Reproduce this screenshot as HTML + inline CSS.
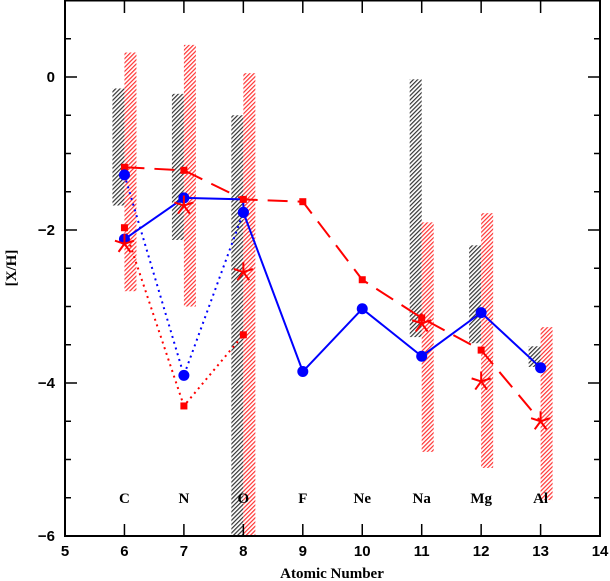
<!DOCTYPE html>
<html><head><meta charset="utf-8"><style>
body{margin:0;background:#fff;}
svg{display:block;font-family:"Liberation Sans",sans-serif;}
.t{font-size:15px;font-weight:bold;}
.el{font-family:"Liberation Serif",serif;font-size:15px;font-weight:bold;}
</style></head><body>
<svg id="c" width="610" height="581" viewBox="0 0 610 581" xmlns="http://www.w3.org/2000/svg">
<defs>
<pattern id="hb" width="3" height="3" patternUnits="userSpaceOnUse" patternTransform="rotate(45)"><rect width="3" height="3" fill="#fff"/><rect width="1.2" height="3" fill="#333"/></pattern>
<pattern id="hr" width="3" height="3" patternUnits="userSpaceOnUse" patternTransform="rotate(45)"><rect width="3" height="3" fill="#fff"/><rect width="1.2" height="3" fill="#f33"/></pattern>
</defs>
<g id="bars"></g><g id="lines"></g><g id="marks"></g><g id="axes"></g>
</svg>
<script>
const elements=["C","N","O","F","Ne","Na","Mg","Al"];
const zs=[6,7,8,9,10,11,12,13];
const blackBarZ=[6,7,8,11,12,13];
const blackBarTop=[-0.15,-0.22,-0.5,-0.03,-2.2,-3.52];
const blackBarBot=[-1.68,-2.13,-6,-3.4,-3.48,-3.79];
const redBarZ=[6,7,8,11,12,13];
const redBarTop=[0.32,0.42,0.05,-1.9,-1.78,-3.27];
const redBarBot=[-2.8,-3.0,-6,-4.9,-5.11,-5.53];
const dashedZ=[6,7,8,9,10,11,12,13];
const dashedY=[-1.18,-1.22,-1.6,-1.63,-2.65,-3.15,-3.57,-4.5];
const dashedSq=[true,true,true,true,true,true,true,false];
const blueZ=[6,7,8,8,9,10,11,12,13];
const blueY=[-2.12,-1.58,-1.6,-1.77,-3.85,-3.03,-3.65,-3.08,-3.8];
const blueHasDot=[true,true,false,true,true,true,true,true,true];
const blueDotZ=[6,7,8];
const blueDotY=[-1.28,-3.9,-1.77];
const redDotZ=[6,7,8];
const redDotY=[-1.97,-4.3,-3.37];
const starZ=[6,7,8,11,12,13];
const starY=[-2.18,-1.68,-2.55,-3.22,-3.98,-4.5];
const xTicks=[5,6,7,8,9,10,11,12,13,14];
const yTicks=[0,-2,-4,-6];

const X=v=>65+(v-5)*59.45, Y=v=>77-v*76.5;
const NS="http://www.w3.org/2000/svg";
function mk(t,p,a){const e=document.createElementNS(NS,t);for(const k in a)e.setAttribute(k,a[k]);p.appendChild(e);return e;}
const G=id=>document.getElementById(id);
const bars=G('bars'),lines=G('lines'),marks=G('marks'),axes=G('axes');
const top0=0.5,bot=536;
const clampY=v=>Math.max(Math.min(Y(v),bot),top0);
blackBarZ.forEach((z,i)=>{const y1=clampY(blackBarTop[i]),y2=clampY(blackBarBot[i]);
 const r=mk('rect',bars,{x:X(z)-12,y:y1,width:12,height:y2-y1,fill:'url(#hb)'});
 
 });
redBarZ.forEach((z,i)=>{const y1=clampY(redBarTop[i]),y2=clampY(redBarBot[i]);
 const r=mk('rect',bars,{x:X(z),y:y1,width:12,height:y2-y1,fill:'url(#hr)'});
 
 });
function pl(zA,yA,col,dash,name){const p=mk('polyline',lines,{points:zA.map((z,i)=>X(z)+','+Y(yA[i])).join(' '),fill:'none',stroke:col,'stroke-width':2,'stroke-dasharray':dash});
 
 }
pl(dashedZ,dashedY,'#f00','20 10','red-dashed-line');
pl(blueZ,blueY,'#00f','none','blue-solid-line');
pl(blueDotZ,blueDotY,'#00f','2 4','blue-dotted-line');
pl(redDotZ,redDotY,'#f00','2 4','red-dotted-line');
function sq(z,y,name){const r=mk('rect',marks,{x:X(z)-3.5,y:Y(y)-3.5,width:7,height:7,fill:'#f00'});
 
 }
dashedZ.forEach((z,i)=>{if(dashedSq[i])sq(z,dashedY[i],'red-square-dashed');});
redDotZ.forEach((z,i)=>sq(z,redDotY[i],'red-square-dotted'));
function dot(z,y){const c=mk('circle',marks,{cx:X(z),cy:Y(y),r:5.5,fill:'#00f'});
 
 }
blueZ.forEach((z,i)=>{if(blueHasDot[i])dot(z,blueY[i]);});
blueDotZ.forEach((z,i)=>dot(z,blueDotY[i]));
starZ.forEach((z,i)=>{const cx=X(z),cy=Y(starY[i]);let d='';
 for(let k=0;k<5;k++){const a=-Math.PI/2+k*2*Math.PI/5;d+=`M${cx},${cy}L${cx+10*Math.cos(a)},${cy+10*Math.sin(a)}`;}
 const s=mk('path',marks,{d:d,stroke:'#f00','stroke-width':2,fill:'none'});
 
 });
const fr=mk('rect',axes,{x:65,y:0.5,width:535,height:535.5,fill:'none',stroke:'#000','stroke-width':2});


xTicks.forEach(v=>{const x=X(v);
 mk('line',axes,{x1:x,x2:x,y1:bot,y2:bot-12,stroke:'#000','stroke-width':1.5});
 mk('line',axes,{x1:x,x2:x,y1:1,y2:13,stroke:'#000','stroke-width':1.5});
 const t=mk('text',axes,{x:x,y:556,'text-anchor':'middle',class:'t'});t.textContent=v;
 
 });
for(let v=1;v>=-6;v-=0.5){const y=Y(v);const L=(Number.isInteger(v)&&v%2===0)?12:6;
 mk('line',axes,{x1:65,x2:65+L,y1:y,y2:y,stroke:'#000','stroke-width':1.5});
 mk('line',axes,{x1:600,x2:600-L,y1:y,y2:y,stroke:'#000','stroke-width':1.5});}
yTicks.forEach(v=>{const t=mk('text',axes,{x:55,y:Y(v)+5,'text-anchor':'end',class:'t'});t.textContent=v===0?'0':'−'+(-v);
 
 });
zs.forEach((z,i)=>{const t=mk('text',axes,{x:X(z),y:503,'text-anchor':'middle',class:'el'});t.textContent=elements[i];
 
 });
const xt=mk('text',axes,{x:332,y:578,'text-anchor':'middle',class:'el','font-size':16});xt.textContent='Atomic Number';


const yt=mk('text',axes,{x:16,y:268,'text-anchor':'middle',class:'el',transform:'rotate(-90 16 268)'});yt.textContent='[X/H]';


</script>
</body></html>
